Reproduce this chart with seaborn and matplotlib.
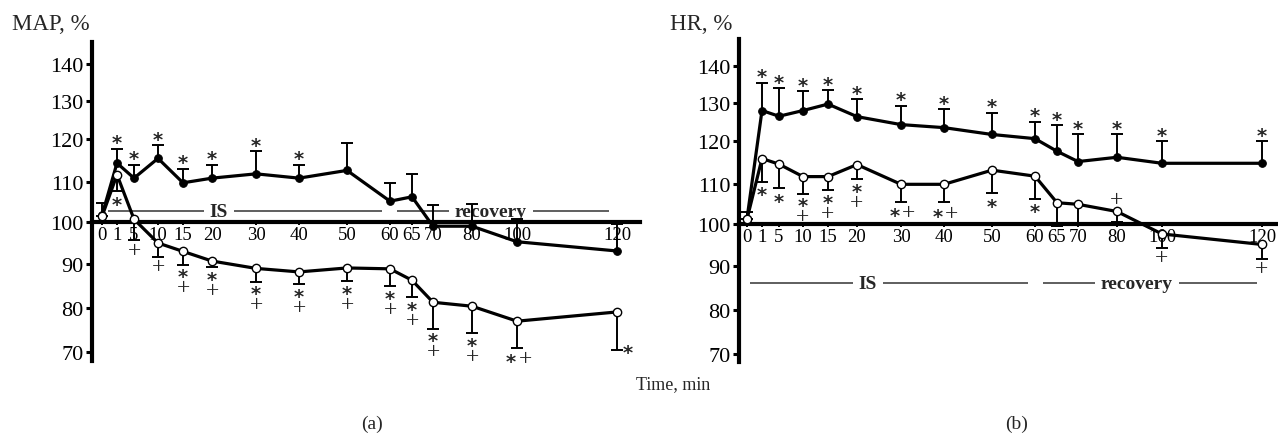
import numpy as np
import matplotlib.pyplot as plt
import seaborn as sns

# sampling times, min
times = [0, 1, 5, 10, 15, 20, 30, 40, 50, 60, 65, 70, 80, 100, 120]

# (a) MAP, % of baseline
map_closed = [101.7, 114.4, 110.9, 115.5, 109.8, 110.9, 111.9, 110.9, 112.7, 105.2, 106.3, 99.0, 99.0, 95.3, 93.1]
map_closed_err = [3.1, 3.3, 3.1, 3.0, 3.3, 3.1, 5.2, 3.1, 6.3, 4.6, 5.5, 5.3, 5.6, 5.4, 6.5]
map_open = [101.4, 111.7, 100.7, 95.0, 93.0, 90.7, 89.0, 88.2, 89.1, 88.9, 86.3, 81.3, 80.4, 77.0, 79.1]
map_open_err = [0, 4.0, 5.1, 3.3, 3.2, 1.4, 3.0, 2.8, 3.0, 4.0, 3.9, 6.0, 6.2, 6.0, 8.6]
map_closed_sig = ["", "*", "*", "*", "*", "*", "*", "*", "", "", "", "", "", "", ""]
map_open_sig = ["", "*", "+", "+", "*/+", "*/+", "*/+", "*/+", "*/+", "*/+", "*/+", "*/+", "*/+", "*+", ">*"]

# (b) HR, % of baseline
hr_closed = [101.3, 128.0, 126.5, 128.0, 129.7, 126.4, 124.3, 123.5, 121.7, 120.6, 117.6, 115.2, 116.2, 114.8, 114.8]
hr_closed_err = [1.6, 7.4, 7.5, 5.2, 3.8, 4.6, 4.9, 4.8, 5.7, 4.5, 6.5, 6.5, 5.5, 5.1, 5.1]
hr_open = [101.2, 115.9, 114.6, 111.7, 111.7, 114.5, 109.9, 109.9, 113.2, 111.8, 105.3, 104.9, 103.1, 97.6, 95.1]
hr_open_err = [0, 5.4, 5.7, 4.2, 3.3, 3.4, 4.3, 4.5, 5.5, 5.5, 5.8, 4.6, 2.6, 3.3, 3.4]
hr_closed_sig = ["", "*", "*", "*", "*", "*", "*", "*", "*", "*", "*", "*", "*", "*", "*"]
hr_open_sig = ["", "*", "*", "*/+", "*/+", "*/+", "*+", "*+", "*", "*", "", "", "^+", "+", "+"]

# the original time axis is not linear: knots of a piecewise scale
X_KNOTS = [-10, 0, 1, 5, 10, 15, 20, 30, 40, 50, 60, 65, 70, 80, 100, 120, 220]
X_POS = [-150, 0, 15, 32, 56, 81, 110, 154, 197, 245, 288, 310, 331, 370, 415, 515, 1015]
Y_KNOTS = [60, 70, 80, 90, 100, 110, 120, 130, 140, 160]
Y_POS = [-43, 0, 44, 88, 130, 170, 213, 251, 288, 364]


def xf(v):
    return np.interp(v, X_KNOTS, X_POS)


def xi(p):
    return np.interp(p, X_POS, X_KNOTS)


def yf(v):
    return np.interp(v, Y_KNOTS, Y_POS)


def yi(p):
    return np.interp(p, Y_POS, Y_KNOTS)


sns.set_style("white", {'axes.grid': False})
plt.rcParams['font.family'] = ['Liberation Serif', 'DejaVu Sans']

STAR = dict(fontsize=14, fontweight='bold', family='DejaVu Sans')
PLUS = dict(fontsize=17, family='Liberation Serif')
STAR_SHIFT = -3


def put(ax, t, y, s, dx, dy):
    style = STAR if s == "*" else PLUS
    shift = STAR_SHIFT if s == "*" else 0
    ax.annotate(s, (t, y), xytext=(dx, dy + shift), textcoords='offset pixels',
                ha='center', va='center', zorder=5, **style)


def draw_panel(ax, closed, closed_err, opn, opn_err, closed_sig, open_sig, phase_y, phases):
    closed = np.array(closed)
    opn = np.array(opn)
    tops = closed + np.array(closed_err)
    bots = opn - np.array(opn_err)

    # phase bars (IS / recovery)
    for label, t0, t1, tc in phases:
        ax.hlines(phase_y, t0, t1, color='#333333', lw=1.1, zorder=1)
        ax.text(tc, phase_y, label, ha='center', va='center', fontsize=14, fontweight='bold',
                bbox=dict(facecolor='white', edgecolor='none', boxstyle='square,pad=0.3'), zorder=1.5)

    # one-sided error bars
    ax.vlines(times, closed, tops, color='black', lw=1.4, zorder=2)
    ax.plot(times, tops, ls='none', marker='_', markersize=8, mew=1.4, color='black', zorder=2)
    ax.vlines(times, bots, opn, color='black', lw=1.4, zorder=2)
    ax.plot(times, bots, ls='none', marker='_', markersize=8, mew=1.4, color='black', zorder=2)

    sns.lineplot(x=times, y=closed, ax=ax, color='black', lw=2.3, marker='o', markersize=5.5,
                 markerfacecolor='black', markeredgecolor='black', zorder=4)
    sns.lineplot(x=times, y=opn, ax=ax, color='black', lw=2.3, marker='o', markersize=6,
                 markerfacecolor='white', markeredgecolor='black', markeredgewidth=1, zorder=4)

    for t, top, s in zip(times, tops, closed_sig):
        if s:
            put(ax, t, top, "*", 0, 9)
    for t, v, b, s in zip(times, opn, bots, open_sig):
        if s == "*" or s == "+":
            put(ax, t, b, s, 0, -10)
        elif s == "*/+":
            put(ax, t, b, "*", 0, -9)
            put(ax, t, b, "+", 0, -23)
        elif s == "*+":
            put(ax, t, b, "*", -6, -11)
            put(ax, t, b, "+", 8, -11)
        elif s == ">*":
            put(ax, t, b, "*", 11, 0)
        elif s == "^+":
            put(ax, t, v, "+", 0, 12)

    # spine position first: it resets the ticks
    ax.spines['bottom'].set_position(('data', 100))
    ax.spines['right'].set_visible(False)
    ax.spines['top'].set_visible(False)
    for sp in ['left', 'bottom']:
        ax.spines[sp].set_linewidth(3)
        ax.spines[sp].set_color('black')

    ax.set_xscale('function', functions=(xf, xi))
    ax.set_yscale('function', functions=(yf, yi))
    ax.set_xticks(times)
    ax.set_xticklabels([str(t) for t in times])
    ax.set_xticks([], minor=True)
    ax.set_yticks([70, 80, 90, 100, 110, 120, 130, 140])
    ax.set_yticklabels(["70", "80", "90", "100", "110", "120", "130", "140"])
    ax.set_yticks([], minor=True)
    ax.tick_params(axis='y', direction='out', length=4.5, width=2.2, pad=1.5, left=True,
                   colors='black', labelsize=16)
    ax.tick_params(axis='x', direction='out', length=2.5, width=1.4, pad=0.5, bottom=True,
                   colors='black', labelsize=13.5)
    ax.set_xlabel("")
    ax.set_ylabel("")
    ax.patch.set_alpha(0)


fig = plt.figure(figsize=(12.78, 4.35), dpi=100)
W, H = 1278, 435
ax1 = fig.add_axes([92 / W, (H - 362) / H, 548 / W, 319 / H])
ax2 = fig.add_axes([739 / W, (H - 363) / H, 539 / W, 323 / H])

draw_panel(ax1, map_closed, map_closed_err, map_open, map_open_err, map_closed_sig, map_open_sig,
           102.75, [("IS", 0.4, 58.1, 21.6), ("recovery", 61.6, 118.4, 88.4)])
ax1.set_xlim(-0.667, 124.6)
ax1.set_ylim(67.9, 145.8)

draw_panel(ax2, hr_closed, hr_closed_err, hr_open, hr_open_err, hr_closed_sig, hr_open_sig,
           86.0, [("IS", 0.2, 58.4, 22.5), ("recovery", 61.8, 119.0, 88.9)])
ax2.set_xlim(-0.533, 123.2)
ax2.set_ylim(68.1, 147.1)

fig.text(12 / W, 1 - 25 / H, "MAP, %", ha='left', va='center', fontsize=16.5)
fig.text(670 / W, 1 - 25 / H, "HR, %", ha='left', va='center', fontsize=16.5)
fig.text(673 / W, 1 - 385 / H, "Time, min", ha='center', va='center', fontsize=13)
fig.text(372 / W, 1 - 424 / H, "(a)", ha='center', va='center', fontsize=14)
fig.text(1017 / W, 1 - 424 / H, "(b)", ha='center', va='center', fontsize=14)

plt.savefig("out.png", dpi=100)
